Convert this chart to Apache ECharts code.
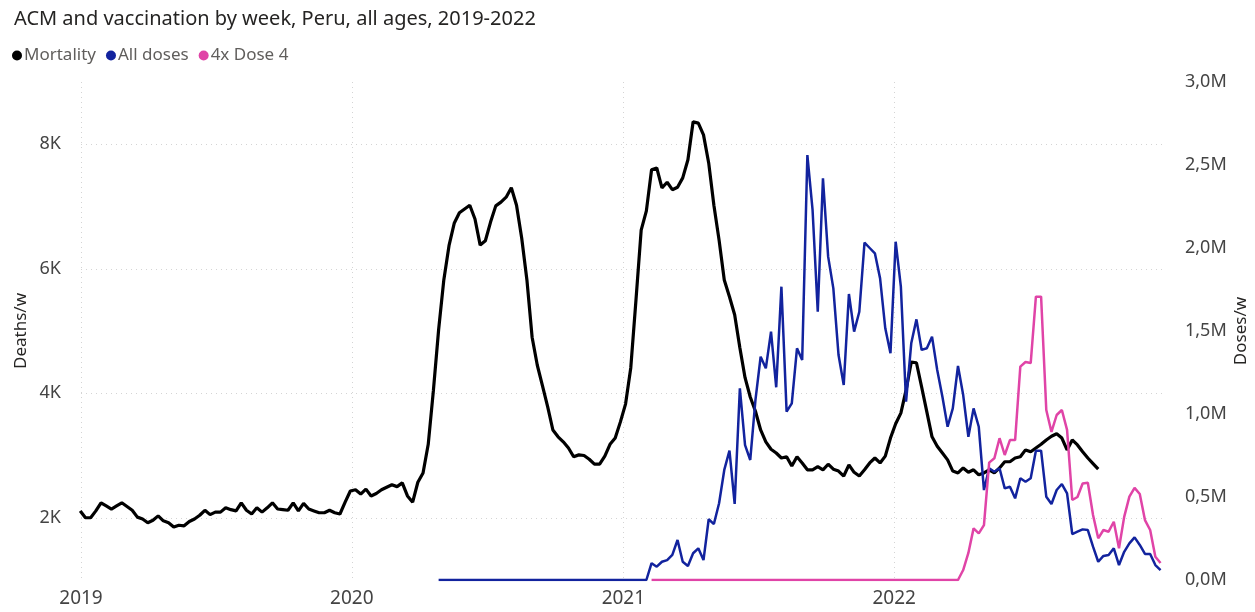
<!DOCTYPE html>
<html>
<head>
<meta charset="utf-8">
<script src="https://cdn.jsdelivr.net/npm/echarts@6/dist/echarts.min.js"></script>
<style>
  html, body { margin: 0; padding: 0; background: #fff; }
  #chart { width: 1255px; height: 612px; }
</style>
</head>
<body>
<div id="chart"></div>
<script>
// weekly deaths, first week starting 2018-12-31
var mortalityStart = [2018, 12, 31];
var mortality = [
  2110, 2000, 2000, 2110, 2240, 2190, 2140, 2190, 2240, 2180,
  2120, 2010, 1980, 1920, 1960, 2030, 1950, 1920, 1850, 1880,
  1870, 1940, 1980, 2040, 2120, 2050, 2090, 2090, 2160, 2130,
  2110, 2240, 2120, 2060, 2160, 2090, 2160, 2240, 2140, 2130,
  2120, 2240, 2110, 2230, 2140, 2110, 2080, 2080, 2120, 2080,
  2060, 2250, 2430, 2450, 2380, 2460, 2350, 2390, 2450, 2490,
  2530, 2500, 2560, 2350, 2250, 2570, 2720, 3180, 4050, 5020,
  5820, 6370, 6730, 6900, 6960, 7020, 6800, 6380, 6450, 6750,
  7010, 7070, 7150, 7300, 7020, 6490, 5820, 4900, 4450, 4120,
  3780, 3410, 3300, 3220, 3120, 2980, 3010, 3000, 2940, 2860,
  2860, 2990, 3180, 3280, 3540, 3830, 4410, 5500, 6620, 6930,
  7590, 7620, 7300, 7390, 7270, 7310, 7460, 7750, 8360, 8340,
  8150, 7700, 7020, 6460, 5820, 5550, 5260, 4730, 4250, 3940,
  3710, 3410, 3220, 3100, 3040, 2960, 2980, 2830, 2980, 2880,
  2770, 2770, 2820, 2770, 2860, 2780, 2750, 2670, 2850, 2730,
  2670, 2770, 2880, 2960, 2880, 2990, 3280, 3510, 3680, 4050,
  4500, 4490, 4100, 3700, 3300, 3150, 3040, 2930, 2750, 2720,
  2800, 2730, 2770, 2690, 2720, 2770, 2720, 2800, 2900, 2900,
  2960, 2980, 3090, 3060, 3120, 3180, 3250, 3310, 3350, 3280,
  3090, 3250, 3170, 3060, 2960, 2870, 2780
];

// weekly doses (all doses), first week starting 2020-04-27
var allDosesStart = [2020, 4, 27];
var allDoses = [
  0, 0, 0, 0, 0, 0, 0, 0, 0, 0,
  0, 0, 0, 0, 0, 0, 0, 0, 0, 0,
  0, 0, 0, 0, 0, 0, 0, 0, 0, 0,
  0, 0, 0, 0, 0, 0, 0, 0, 0, 0,
  0,
  101000, 80000, 110000, 120000, 151000, 241000, 110000, 84000, 161000, 191000,
  120000, 366000, 337000, 462000, 663000, 779000, 458000, 1155000, 813000, 723000,
  1084000, 1345000, 1275000, 1496000, 1161000, 1767000, 1014000, 1064000, 1396000, 1325000,
  2560000, 2229000, 1616000, 2420000, 1948000, 1757000, 1355000, 1175000, 1723000, 1496000,
  1616000, 2032000, 2000000, 1968000, 1817000, 1516000, 1366000, 2038000, 1767000, 1074000,
  1426000, 1570000, 1386000, 1396000, 1466000, 1265000, 1104000, 923000, 1034000, 1289000,
  1114000, 863000, 1034000, 923000, 542000, 673000, 652000, 673000, 552000, 562000,
  492000, 613000, 592000, 613000, 779000, 779000, 502000, 458000, 542000, 578000,
  522000, 277000, 291000, 305000, 301000, 201000, 110000, 145000, 151000, 191000,
  90000, 170000, 221000, 257000, 211000, 157000, 157000, 90000, 60000
];

// 4 x weekly dose 4, first week starting 2021-02-08
var dose4Start = [2021, 2, 8];
var dose4x = [
  0, 0, 0, 0, 0, 0, 0, 0, 0, 0,
  0, 0, 0, 0, 0, 0, 0, 0, 0, 0,
  0, 0, 0, 0, 0, 0, 0, 0, 0, 0,
  0, 0, 0, 0, 0, 0, 0, 0, 0, 0,
  0, 0, 0, 0, 0, 0, 0, 0, 0, 0,
  0, 0, 0, 0, 0, 0, 0, 0, 0, 0,
  60000, 163000, 311000, 281000, 331000, 707000, 733000, 854000, 753000, 843000,
  843000, 1285000, 1313000, 1307000, 1707000, 1707000, 1024000, 892000, 994000, 1024000,
  904000, 482000, 500000, 581000, 586000, 392000, 251000, 301000, 291000, 351000,
  191000, 380000, 502000, 555000, 518000, 361000, 301000, 140000, 102000
];

var leftTicks = [2000, 4000, 6000, 8000];

function weekly(start, values) {
  return values.map(function (v, i) {
    return [new Date(start[0], start[1] - 1, start[2] + i * 7).getTime(), v];
  });
}

var FONT = '"Noto Sans"';
var DAY = 24 * 3600 * 1000;

var chart = echarts.init(document.getElementById('chart'));

var option = {
  animation: false,
  title: {
    text: 'ACM and vaccination by week, Peru, all ages, 2019-2022',
    left: 9,
    top: 4,
    textStyle: { fontFamily: FONT, fontSize: 20, fontWeight: 'normal', color: '#252423' }
  },
  legend: {
    left: 7,
    top: 42,
    icon: 'circle',
    itemWidth: 10,
    itemHeight: 10,
    itemGap: 10,
    textStyle: { fontFamily: FONT, fontSize: 17, color: '#605E5C', padding: [0, 0, 0, -3] },
    data: ['Mortality', 'All doses', '4x Dose 4']
  },
  grid: { left: 81, right: 90, top: 82, bottom: 32, outerBoundsMode: 'none', containLabel: false },
  xAxis: {
    type: 'time',
    min: new Date(2019, 0, 1).getTime(),
    max: new Date(2023, 0, 1).getTime(),
    minInterval: 365 * DAY,
    maxInterval: 366 * DAY,
    axisLine: { show: false },
    axisTick: { show: false },
    axisLabel: {
      formatter: '{yyyy}',
      fontFamily: FONT, fontSize: 19, color: '#444',
      margin: 9,
      showMaxLabel: false
    },
    splitLine: {
      show: true,
      showMaxLine: false,
      lineStyle: { color: '#d4d4d4', type: [1, 4], width: 1 }
    }
  },
  yAxis: [
    {
      type: 'value',
      min: 1000,
      max: 9000,
      position: 'left',
      name: 'Deaths/w',
      nameLocation: 'middle',
      nameMoveOverlap: false,
      nameGap: 51,
      nameTextStyle: { fontFamily: FONT, fontSize: 17, color: '#252423' },
      axisLine: { show: false },
      axisTick: { show: false, customValues: leftTicks },
      axisLabel: {
        customValues: leftTicks,
        formatter: function (v) { return v / 1000 + 'K'; },
        fontFamily: FONT, fontSize: 18, color: '#444', margin: 20
      },
      splitLine: { show: true, lineStyle: { color: '#d4d4d4', type: [1, 4], width: 1 } }
    },
    {
      type: 'value',
      min: 0,
      max: 3000000,
      interval: 500000,
      position: 'right',
      name: 'Doses/w',
      nameLocation: 'middle',
      nameMoveOverlap: false,
      nameGap: 68,
      nameTextStyle: { fontFamily: FONT, fontSize: 17, color: '#252423' },
      axisLine: { show: false },
      axisTick: { show: false },
      axisLabel: {
        formatter: function (v) { return (v / 1e6).toFixed(1).replace('.', ',') + 'M'; },
        fontFamily: FONT, fontSize: 18, color: '#444', margin: 20
      },
      splitLine: { show: false }
    }
  ],
  series: [
    {
      name: 'Mortality',
      type: 'line',
      yAxisIndex: 0,
      data: weekly(mortalityStart, mortality),
      showSymbol: false,
      symbol: 'circle',
      itemStyle: { color: '#000000' },
      lineStyle: { color: '#000000', width: 3.2 }
    },
    {
      name: 'All doses',
      type: 'line',
      yAxisIndex: 1,
      data: weekly(allDosesStart, allDoses),
      showSymbol: false,
      symbol: 'circle',
      itemStyle: { color: '#12239E' },
      lineStyle: { color: '#12239E', width: 2.5 }
    },
    {
      name: '4x Dose 4',
      type: 'line',
      yAxisIndex: 1,
      data: weekly(dose4Start, dose4x),
      showSymbol: false,
      symbol: 'circle',
      itemStyle: { color: '#E044A7' },
      lineStyle: { color: '#E044A7', width: 2.5 }
    }
  ]
};

chart.setOption(option);
</script>
</body>
</html>
